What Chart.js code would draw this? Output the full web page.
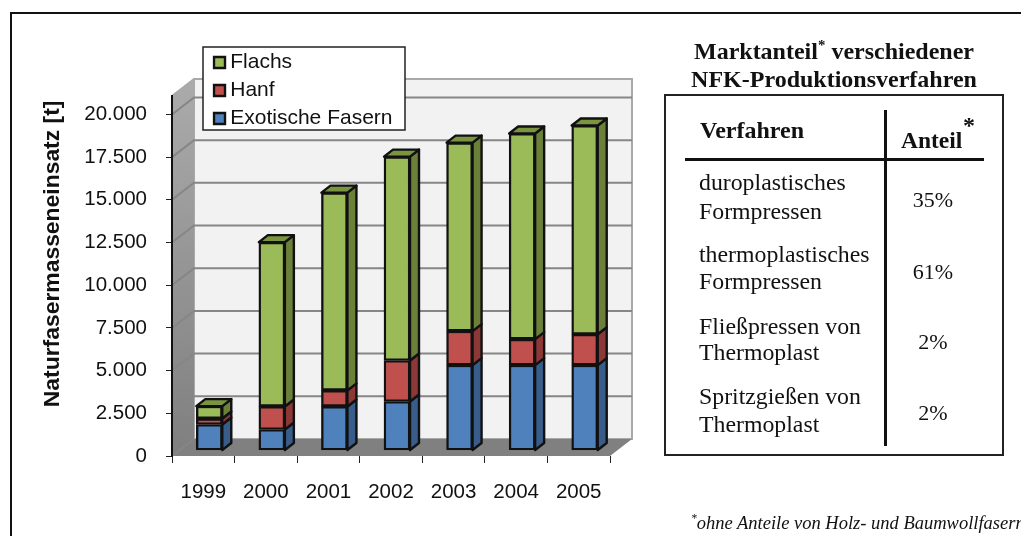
<!DOCTYPE html>
<html><head><meta charset="utf-8">
<style>
html,body{margin:0;padding:0;background:#fff;width:1021px;height:536px;overflow:hidden}
#c{position:absolute;left:0;top:0}
.t{position:absolute;line-height:0;white-space:nowrap;color:#111;font-family:"Liberation Serif",serif}
.t sup{font-size:.62em;line-height:0;vertical-align:baseline;position:relative;top:-.62em}
.l{position:absolute;background:#111}
#frame{position:absolute;left:10px;top:12px;width:1100px;height:600px;border:2px solid #111;box-sizing:border-box}
#box{position:absolute;left:664px;top:94px;width:340px;height:362px;border:2px solid #222;box-sizing:border-box}
</style>
<script src="https://cdn.jsdelivr.net/npm/chart.js@4"></script>
</head><body>
<div id="frame"></div>
<div id="box"></div>
<div class="l" style="left:884px;top:110px;width:3px;height:336px"></div>
<div class="l" style="left:685px;top:158px;width:299px;height:3px"></div>
<canvas id="c" width="1021" height="536"></canvas>
<div id="text"></div>
<script>
const years = ['1999','2000','2001','2002','2003','2004','2005'];
const exotic = [1520,1230,2580,2870,5000,5000,5000];
const hemp   = [350,1350,940,2400,1990,1520,1810];
const flax   = [730,9620,11580,11940,11040,12040,12220];
const seriesNames = ['Exotische Fasern','Hanf','Flachs'];
const yTickValues = [0,2500,5000,7500,10000,12500,15000,17500,20000];
const yTitle = 'Naturfasermasseneinsatz [t]';
const tableTitle = ['Marktanteil','verschiedener','NFK-Produktionsverfahren'];
const tableHead = ['Verfahren','Anteil'];
const processes = [['duroplastisches','Formpressen'],['thermoplastisches','Formpressen'],['Fließpressen von','Thermoplast'],['Spritzgießen von','Thermoplast']];
const shares = ['35%','61%','2%','2%'];
const footnote = 'ohne Anteile von Holz- und Baumwollfasern';

const colors = {front:['#4f81bd','#c0504d','#9bbb59'],side:['#385d8a','#8c3836','#6b8139'],top:'#7a9440'};
const wall = {dx:22,dy:17}, barOff = {dx:6,dy:5.5}, depth = {dx:9,dy:7};

const scene = {
  id:'scene',
  beforeDraw(chart){
    const {ctx,chartArea:a,scales:{y}} = chart;
    const L=a.left,R=a.right,T=a.top,B=a.bottom,dx=wall.dx,dy=wall.dy;
    ctx.save();
    ctx.fillStyle='#f2f2f2';
    ctx.fillRect(L+dx,T-dy,R-L,B-T);
    ctx.strokeStyle='#a9a9a9';ctx.lineWidth=2;
    ctx.strokeRect(L+dx,T-dy,R-L,B-T);
    // floor
    ctx.fillStyle='#808080';
    ctx.beginPath();ctx.moveTo(L,B);ctx.lineTo(L+dx,B-dy);ctx.lineTo(R+dx,B-dy);ctx.lineTo(R,B);ctx.closePath();ctx.fill();
    // left wall
    const g=ctx.createLinearGradient(L,T-dy,L+dx,B);
    g.addColorStop(0,'#ababab');g.addColorStop(1,'#7f7f7f');
    ctx.fillStyle=g;
    ctx.beginPath();ctx.moveTo(L,T);ctx.lineTo(L+dx,T-dy);ctx.lineTo(L+dx,B-dy);ctx.lineTo(L,B);ctx.closePath();ctx.fill();
    // gridlines
    ctx.strokeStyle='#868686';ctx.lineWidth=2;
    yTickValues.forEach(v=>{
      const p=y.getPixelForValue(v);
      ctx.beginPath();ctx.moveTo(L,p);ctx.lineTo(L+dx,p-dy);
      if(v>0)ctx.lineTo(R+dx,p-dy);
      ctx.stroke();
    });
    // top of back wall
    ctx.beginPath();ctx.moveTo(L,T);ctx.lineTo(L+dx,T-dy);ctx.strokeStyle='#a9a9a9';ctx.stroke();
    // legend frame
    ctx.fillStyle='#fff';ctx.fillRect(203,47,202,83);
    ctx.strokeStyle='#222';ctx.lineWidth=1.5;ctx.strokeRect(203,47,202,83);
    ctx.restore();
    const lg=chart.legend;
    lg.left=212.25;lg.right=405;lg.top=45;lg.bottom=175;lg.width=192.75;lg.height=130;
    lg.adjustHitBoxes();
  },
  beforeDatasetsDraw(chart){
    const ctx=chart.ctx;
    ctx.save();
    ctx.translate(barOff.dx,-barOff.dy);
    ctx.lineWidth=2.4;ctx.strokeStyle='#111';ctx.lineJoin='round';
    chart.data.datasets.forEach((ds,i)=>{
      chart.getDatasetMeta(i).data.forEach(el=>{
        const r=el.x+el.width/2,l=el.x-el.width/2;
        ctx.fillStyle=colors.side[i];
        ctx.beginPath();ctx.moveTo(r,el.y);ctx.lineTo(r+depth.dx,el.y-depth.dy);ctx.lineTo(r+depth.dx,el.base-depth.dy);ctx.lineTo(r,el.base);ctx.closePath();ctx.fill();ctx.stroke();
        if(i===chart.data.datasets.length-1){
          ctx.fillStyle=colors.top;
          ctx.beginPath();ctx.moveTo(l,el.y);ctx.lineTo(l+depth.dx,el.y-depth.dy);ctx.lineTo(r+depth.dx,el.y-depth.dy);ctx.lineTo(r,el.y);ctx.closePath();ctx.fill();ctx.stroke();
        }
      });
    });
  },
  afterDatasetsDraw(chart){chart.ctx.restore();}
};

const sans='"Liberation Sans",Arial,sans-serif';
new Chart(document.getElementById('c'),{
  type:'bar',
  data:{labels:years,datasets:[exotic,hemp,flax].map((d,i)=>({
    label:seriesNames[i],data:d,backgroundColor:colors.front[i],borderColor:'#111',borderWidth:2.4,borderSkipped:false,barThickness:26
  }))},
  plugins:[scene],
  options:{
    responsive:false,animation:false,
    layout:{padding:{left:39,right:411,top:96,bottom:0}},
    plugins:{
      tooltip:{enabled:false},
      legend:{position:'chartArea',align:'start',reverse:true,
        labels:{usePointStyle:true,pointStyle:'rect',boxWidth:.5,boxHeight:11,padding:7,color:'#111',font:{family:sans,size:21}}}
    },
    scales:{
      x:{stacked:true,
        grid:{drawOnChartArea:false,offset:true,color:'#222',tickLength:7},
        border:{display:false},
        ticks:{color:'#111',padding:17,maxRotation:0,autoSkip:false,font:{family:sans,size:20.5}},
        afterFit(s){s.height=80;}
      },
      y:{stacked:true,min:0,max:21080,
        afterBuildTicks(s){s.ticks=yTickValues.map(v=>({value:v}));},
        grid:{drawOnChartArea:false,color:'#222',tickLength:6},
        border:{display:true,color:'#111',width:2},
        ticks:{color:'#111',padding:19,font:{family:sans,size:20.5},callback:v=>v.toLocaleString('de-DE')},
        title:{display:true,text:yTitle+'\u2009',align:'end',color:'#111',padding:0,font:{family:sans,size:22.9,weight:'bold'}},
        afterFit(s){s.width=172-39;}
      }
    }
  }
});

// table text
const host=document.getElementById('text');
function put(html,x,base,size,extra,anchor){
  const d=document.createElement('div');d.className='t';d.innerHTML=html;
  d.style.top=(base-0.3375*size)+'px';d.style.fontSize=size+'px';
  d.style.left=x+'px';
  if(anchor==='c')d.style.transform='translateX(-50%)';
  if(extra)d.style.cssText+=';'+extra;
  host.appendChild(d);
}
put('<b>'+tableTitle[0]+'<sup>*</sup> '+tableTitle[1]+'</b>',834,59,24,'','c');
put('<b>'+tableTitle[2]+'</b>',834,87,24,'','c');
put('<b>'+tableHead[0]+'</b>',700,138.5,24);
put('<b>'+tableHead[1]+'</b>',901,147.5,23.5);
put('<b>*</b>',963,133,24);
const bases=[[190,219],[262,289],[334,360],[404,432]], valBase=[207,279,349,420];
processes.forEach((p,i)=>{
  put(p[0],699,bases[i][0],23.8);
  put(p[1],699,bases[i][1],23.8);
  put(shares[i],933,valBase[i],22,'','c');
});
put('<i><sup>*</sup>'+footnote+'</i>',691,529,18.5);
</script>
</body></html>
